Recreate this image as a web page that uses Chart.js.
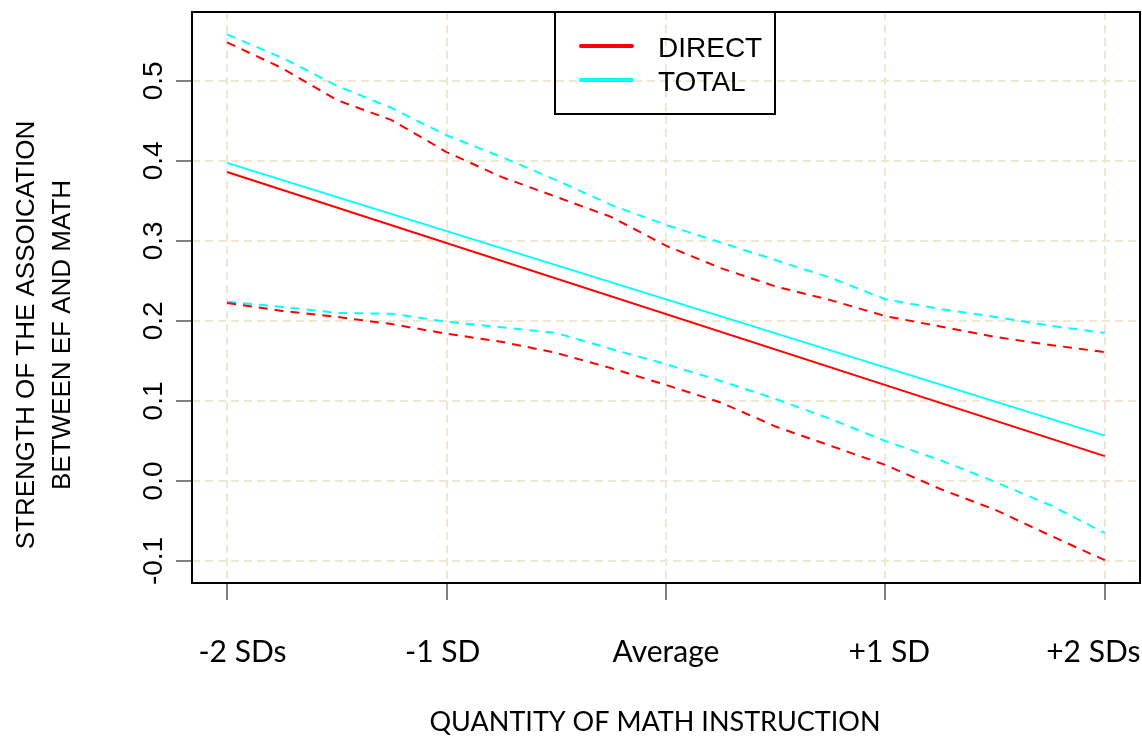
<!DOCTYPE html>
<html>
<head>
<meta charset="utf-8">
<script src="https://cdn.jsdelivr.net/npm/chart.js@4"></script>
<style>
  html, body { margin: 0; padding: 0; background: #ffffff; }
  #c { display: block; }
</style>
</head>
<body>
<canvas id="c" width="1142" height="740"></canvas>
<script>
// ---- data ----
const xPositions = [-2, -1.75, -1.5, -1.25, -1, -0.75, -0.5, -0.25, 0, 0.25, 0.5, 0.75, 1, 1.25, 1.5, 1.75, 2];
const directUpper = [0.548, 0.516, 0.476, 0.451, 0.411, 0.380, 0.355, 0.330, 0.294, 0.266, 0.243, 0.226, 0.206, 0.193, 0.180, 0.170, 0.161];
const totalUpper  = [0.558, 0.529, 0.494, 0.466, 0.432, 0.405, 0.376, 0.345, 0.320, 0.298, 0.276, 0.254, 0.227, 0.215, 0.205, 0.194, 0.185];
const directLower = [0.2225, 0.2125, 0.205, 0.196, 0.184, 0.174, 0.160, 0.141, 0.120, 0.098, 0.068, 0.044, 0.020, -0.010, -0.036, -0.068, -0.099];
const totalLower  = [0.224, 0.2175, 0.210, 0.209, 0.199, 0.192, 0.185, 0.165, 0.146, 0.125, 0.1025, 0.0775, 0.050, 0.026, -0.001, -0.030, -0.065];
const lineEnds = [-2, 2];
const directMain = [0.386, 0.031];
const totalMain  = [0.3975, 0.0566];

const xTickValues = [-2, -1, 0, 1, 2];
const xTickLabels = ['-2 SDs', '-1 SD', 'Average', '+1 SD', '+2 SDs'];
const yTickValues = [-0.1, 0, 0.1, 0.2, 0.3, 0.4, 0.5];
const yTickLabels = ['-0.1', '0.0', '0.1', '0.2', '0.3', '0.4', '0.5'];
const yTitleLines = ['STRENGTH OF THE ASSOICATION', 'BETWEEN EF AND MATH'];
const xTitle = 'QUANTITY OF MATH INSTRUCTION';
const legendLabels = ['DIRECT', 'TOTAL'];

const RED = '#ff0000';
const CYAN = '#00ffff';
const GRID = '#efe7cf';
// label nudges (in spaces) to mimic the original's off-centre tick labels
const xLabelLead = [4, 0, 0, 1, 0];
const xLabelTrail = [0, 1, 0, 0, 3];

const pts = (xs, ys) => xs.map((x, i) => ({ x: x, y: ys[i] }));

const frameAndLegend = {
  id: 'frameAndLegend',
  afterDraw(chart) {
    const ctx = chart.ctx;
    const a = chart.chartArea;
    ctx.save();
    ctx.strokeStyle = '#000';
    ctx.lineWidth = 2;
    ctx.strokeRect(a.left, a.top, a.right - a.left, a.bottom - a.top);
    // y-axis title (two lines, rotated)
    ctx.fillStyle = '#000';
    ctx.font = '26px "Liberation Sans", Arial, sans-serif';
    ctx.textAlign = 'center';
    ctx.textBaseline = 'middle';
    const centers = [27, 63];
    yTitleLines.forEach((t, i) => {
      ctx.save();
      ctx.translate(centers[i], 335);
      ctx.rotate(-Math.PI / 2);
      ctx.fillText(t, 0, 0);
      ctx.restore();
    });
    // x-axis title
    ctx.font = '27px Lato, "Open Sans", sans-serif';
    ctx.fillText(xTitle, 655, 722);
    // legend
    const lx = 555, ly = a.top, lw = 220, lh = 102;
    ctx.lineWidth = 2;
    ctx.strokeStyle = '#000';
    ctx.strokeRect(lx, ly, lw, lh);
    const colors = [RED, CYAN];
    const rows = [46, 80];
    ctx.lineCap = 'round';
    ctx.font = '28px "Liberation Sans", Arial, sans-serif';
    ctx.textBaseline = 'alphabetic';
    ctx.textAlign = 'left';
    legendLabels.forEach((lab, i) => {
      ctx.strokeStyle = colors[i];
      ctx.lineWidth = 4;
      ctx.beginPath();
      ctx.moveTo(581, rows[i]);
      ctx.lineTo(632, rows[i]);
      ctx.stroke();
      ctx.fillStyle = '#000';
      ctx.fillText(lab, 658, rows[i] + 10.5);
    });
    ctx.restore();
  }
};

new Chart(document.getElementById('c'), {
  type: 'scatter',
  data: {
    datasets: [
      { data: pts(xPositions, directUpper), borderColor: RED, borderWidth: 2, borderDash: [9, 7], showLine: true, pointRadius: 0, fill: false, tension: 0 },
      { data: pts(xPositions, directLower), borderColor: RED, borderWidth: 2, borderDash: [9, 7], showLine: true, pointRadius: 0, fill: false, tension: 0 },
      { data: pts(xPositions, totalUpper), borderColor: CYAN, borderWidth: 2, borderDash: [9, 7], showLine: true, pointRadius: 0, fill: false, tension: 0 },
      { data: pts(xPositions, totalLower), borderColor: CYAN, borderWidth: 2, borderDash: [9, 7], showLine: true, pointRadius: 0, fill: false, tension: 0 },
      { data: pts(lineEnds, directMain), borderColor: RED, borderWidth: 2, showLine: true, pointRadius: 0, fill: false, tension: 0 },
      { data: pts(lineEnds, totalMain), borderColor: CYAN, borderWidth: 2, showLine: true, pointRadius: 0, fill: false, tension: 0 }
    ]
  },
  options: {
    responsive: false,
    animation: false,
    devicePixelRatio: 1,
    layout: { padding: { left: 0, top: 12, right: 2, bottom: 0 } },
    plugins: { legend: { display: false }, tooltip: { enabled: false } },
    scales: {
      x: {
        type: 'linear',
        min: -2.16,
        max: 2.16,
        afterBuildTicks: (s) => { s.ticks = xTickValues.map(v => ({ value: v })); },
        afterFit: (s) => { s.height = 157; s.paddingLeft = 0; s.paddingRight = 0; },
        ticks: {
          callback: (v) => {
            const i = xTickValues.indexOf(v);
            if (i < 0) return '';
            return ' '.repeat(xLabelLead[i]) + xTickLabels[i] + ' '.repeat(xLabelTrail[i]);
          },
          font: { family: 'Lato, "Open Sans", sans-serif', size: 30 },
          color: '#000',
          padding: 34,
          maxRotation: 0,
          minRotation: 0
        },
        grid: { color: GRID, lineWidth: 2, tickColor: '#000', tickWidth: 1, tickLength: 17 },
        border: { display: false, dash: [8, 5] },
        title: { display: false }
      },
      y: {
        type: 'linear',
        min: -0.1275,
        max: 0.586,
        afterBuildTicks: (s) => { s.ticks = yTickValues.map(v => ({ value: v })); },
        afterFit: (s) => { s.width = 192; s.paddingTop = 0; s.paddingBottom = 0; },
        ticks: {
          callback: (v) => { const i = yTickValues.findIndex(t => Math.abs(t - v) < 1e-9); return i >= 0 ? yTickLabels[i] : ''; },
          font: { family: '"Liberation Sans", Arial, sans-serif', size: 28 },
          color: '#000',
          padding: -2,
          minRotation: 90,
          maxRotation: 90,
          crossAlign: 'center'
        },
        grid: { color: GRID, lineWidth: 2, tickColor: '#000', tickWidth: 1, tickLength: 16 },
        border: { display: false, dash: [8, 5] },
        title: { display: false }
      }
    }
  },
  plugins: [frameAndLegend]
});
</script>
</body>
</html>
